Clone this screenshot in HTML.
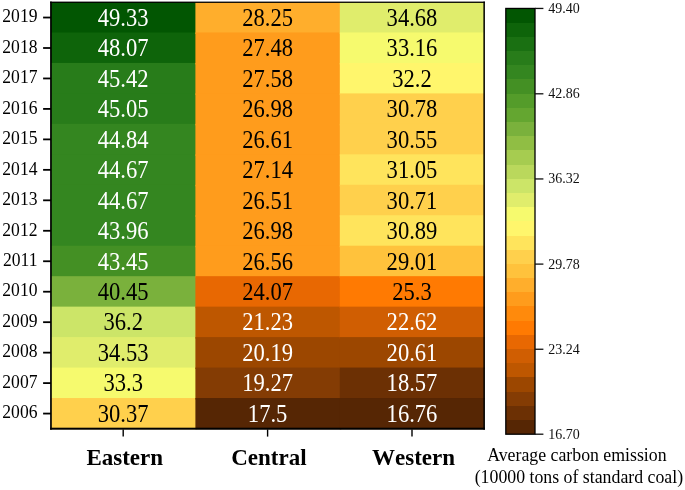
<!DOCTYPE html>
<html lang="en"><head><meta charset="utf-8"><title>Average carbon emission heatmap</title>
<style>html,body{margin:0;padding:0;background:#fff}svg{display:block}text{font-family:"Liberation Serif",serif}</style>
</head><body>
<svg width="685" height="490" viewBox="0 0 685 490" style="filter:blur(0.4px)">
<rect x="0" y="0" width="685" height="490" fill="#ffffff"/>
<clipPath id="hm"><rect x="50.60" y="2.10" width="433.80" height="427.10"/></clipPath>
<g clip-path="url(#hm)">
<rect x="51.00" y="2.00" width="145.90" height="31.96" fill="rgb(2,86,2)"/>
<rect x="51.00" y="32.46" width="145.90" height="31.96" fill="rgb(14,100,10)"/>
<rect x="51.00" y="62.93" width="145.90" height="31.96" fill="rgb(40,124,26)"/>
<rect x="51.00" y="93.39" width="145.90" height="31.96" fill="rgb(40,124,26)"/>
<rect x="51.00" y="123.86" width="145.90" height="31.96" fill="rgb(52,134,32)"/>
<rect x="51.00" y="154.32" width="145.90" height="31.96" fill="rgb(52,134,32)"/>
<rect x="51.00" y="184.79" width="145.90" height="31.96" fill="rgb(52,134,32)"/>
<rect x="51.00" y="215.25" width="145.90" height="31.96" fill="rgb(52,134,32)"/>
<rect x="51.00" y="245.71" width="145.90" height="31.96" fill="rgb(68,144,36)"/>
<rect x="51.00" y="276.18" width="145.90" height="31.96" fill="rgb(122,177,60)"/>
<rect x="51.00" y="306.64" width="145.90" height="31.96" fill="rgb(204,229,104)"/>
<rect x="51.00" y="337.11" width="145.90" height="31.96" fill="rgb(224,237,108)"/>
<rect x="51.00" y="367.57" width="145.90" height="31.96" fill="rgb(246,250,110)"/>
<rect x="51.00" y="398.04" width="145.90" height="31.96" fill="rgb(255,208,76)"/>
<rect x="195.40" y="2.00" width="145.90" height="31.96" fill="rgb(255,174,44)"/>
<rect x="195.40" y="32.46" width="145.90" height="31.96" fill="rgb(255,156,28)"/>
<rect x="195.40" y="62.93" width="145.90" height="31.96" fill="rgb(255,156,28)"/>
<rect x="195.40" y="93.39" width="145.90" height="31.96" fill="rgb(255,156,28)"/>
<rect x="195.40" y="123.86" width="145.90" height="31.96" fill="rgb(255,156,28)"/>
<rect x="195.40" y="154.32" width="145.90" height="31.96" fill="rgb(255,156,28)"/>
<rect x="195.40" y="184.79" width="145.90" height="31.96" fill="rgb(255,156,28)"/>
<rect x="195.40" y="215.25" width="145.90" height="31.96" fill="rgb(255,156,28)"/>
<rect x="195.40" y="245.71" width="145.90" height="31.96" fill="rgb(255,156,28)"/>
<rect x="195.40" y="276.18" width="145.90" height="31.96" fill="rgb(232,104,2)"/>
<rect x="195.40" y="306.64" width="145.90" height="31.96" fill="rgb(190,87,0)"/>
<rect x="195.40" y="337.11" width="145.90" height="31.96" fill="rgb(156,71,0)"/>
<rect x="195.40" y="367.57" width="145.90" height="31.96" fill="rgb(132,60,4)"/>
<rect x="195.40" y="398.04" width="145.90" height="31.96" fill="rgb(86,38,4)"/>
<rect x="339.80" y="2.00" width="145.90" height="31.96" fill="rgb(224,237,108)"/>
<rect x="339.80" y="32.46" width="145.90" height="31.96" fill="rgb(246,250,110)"/>
<rect x="339.80" y="62.93" width="145.90" height="31.96" fill="rgb(255,246,108)"/>
<rect x="339.80" y="93.39" width="145.90" height="31.96" fill="rgb(255,208,76)"/>
<rect x="339.80" y="123.86" width="145.90" height="31.96" fill="rgb(255,208,76)"/>
<rect x="339.80" y="154.32" width="145.90" height="31.96" fill="rgb(255,228,92)"/>
<rect x="339.80" y="184.79" width="145.90" height="31.96" fill="rgb(255,208,76)"/>
<rect x="339.80" y="215.25" width="145.90" height="31.96" fill="rgb(255,228,92)"/>
<rect x="339.80" y="245.71" width="145.90" height="31.96" fill="rgb(255,194,60)"/>
<rect x="339.80" y="276.18" width="145.90" height="31.96" fill="rgb(255,122,2)"/>
<rect x="339.80" y="306.64" width="145.90" height="31.96" fill="rgb(208,94,2)"/>
<rect x="339.80" y="337.11" width="145.90" height="31.96" fill="rgb(156,71,0)"/>
<rect x="339.80" y="367.57" width="145.90" height="31.96" fill="rgb(108,48,4)"/>
<rect x="339.80" y="398.04" width="145.90" height="31.96" fill="rgb(86,38,4)"/>
</g>
<g shape-rendering="crispEdges">
<rect x="505.80" y="8.45" width="29.20" height="14.69" fill="rgb(2,86,2)"/>
<rect x="505.80" y="22.64" width="29.20" height="14.69" fill="rgb(14,100,10)"/>
<rect x="505.80" y="36.83" width="29.20" height="14.69" fill="rgb(26,112,18)"/>
<rect x="505.80" y="51.03" width="29.20" height="14.69" fill="rgb(40,124,26)"/>
<rect x="505.80" y="65.22" width="29.20" height="14.69" fill="rgb(52,134,32)"/>
<rect x="505.80" y="79.41" width="29.20" height="14.69" fill="rgb(68,144,36)"/>
<rect x="505.80" y="93.60" width="29.20" height="14.69" fill="rgb(84,156,42)"/>
<rect x="505.80" y="107.79" width="29.20" height="14.69" fill="rgb(100,166,48)"/>
<rect x="505.80" y="121.98" width="29.20" height="14.69" fill="rgb(122,177,60)"/>
<rect x="505.80" y="136.17" width="29.20" height="14.69" fill="rgb(144,190,68)"/>
<rect x="505.80" y="150.37" width="29.20" height="14.69" fill="rgb(166,204,80)"/>
<rect x="505.80" y="164.56" width="29.20" height="14.69" fill="rgb(186,216,92)"/>
<rect x="505.80" y="178.75" width="29.20" height="14.69" fill="rgb(204,229,104)"/>
<rect x="505.80" y="192.94" width="29.20" height="14.69" fill="rgb(224,237,108)"/>
<rect x="505.80" y="207.13" width="29.20" height="14.69" fill="rgb(246,250,110)"/>
<rect x="505.80" y="221.32" width="29.20" height="14.69" fill="rgb(255,246,108)"/>
<rect x="505.80" y="235.52" width="29.20" height="14.69" fill="rgb(255,228,92)"/>
<rect x="505.80" y="249.71" width="29.20" height="14.69" fill="rgb(255,208,76)"/>
<rect x="505.80" y="263.90" width="29.20" height="14.69" fill="rgb(255,194,60)"/>
<rect x="505.80" y="278.09" width="29.20" height="14.69" fill="rgb(255,174,44)"/>
<rect x="505.80" y="292.28" width="29.20" height="14.69" fill="rgb(255,156,28)"/>
<rect x="505.80" y="306.47" width="29.20" height="14.69" fill="rgb(255,138,12)"/>
<rect x="505.80" y="320.67" width="29.20" height="14.69" fill="rgb(255,122,2)"/>
<rect x="505.80" y="334.86" width="29.20" height="14.69" fill="rgb(232,104,2)"/>
<rect x="505.80" y="349.05" width="29.20" height="14.69" fill="rgb(208,94,2)"/>
<rect x="505.80" y="363.24" width="29.20" height="14.69" fill="rgb(190,87,0)"/>
<rect x="505.80" y="377.43" width="29.20" height="14.69" fill="rgb(156,71,0)"/>
<rect x="505.80" y="391.62" width="29.20" height="14.69" fill="rgb(132,60,4)"/>
<rect x="505.80" y="405.82" width="29.20" height="14.69" fill="rgb(108,48,4)"/>
<rect x="505.80" y="420.01" width="29.20" height="14.69" fill="rgb(86,38,4)"/>
</g>
<rect x="503.80" y="434.20" width="33.20" height="2" fill="#fff"/>
<rect x="505.80" y="8.45" width="29.20" height="425.75" fill="none" stroke="#000" stroke-width="1.3"/>
<rect x="50.10" y="1.60" width="1.70" height="428.10" fill="#000"/>
<rect x="483.40" y="1.60" width="1.50" height="428.10" fill="#000"/>
<rect x="50.10" y="1.60" width="434.80" height="1.30" fill="#000"/>
<rect x="50.10" y="427.70" width="434.80" height="2.00" fill="#000"/>
<line x1="43.1" y1="17.53" x2="51.00" y2="17.53" stroke="#000" stroke-width="1.8"/>
<text transform="translate(37.5,22.28) scale(1,1.05)" x="0" y="0" font-size="17.6" text-anchor="end" fill="#000">2019</text>
<line x1="43.1" y1="48.00" x2="51.00" y2="48.00" stroke="#000" stroke-width="1.8"/>
<text transform="translate(37.5,52.75) scale(1,1.05)" x="0" y="0" font-size="17.6" text-anchor="end" fill="#000">2018</text>
<line x1="43.1" y1="78.46" x2="51.00" y2="78.46" stroke="#000" stroke-width="1.8"/>
<text transform="translate(37.5,83.21) scale(1,1.05)" x="0" y="0" font-size="17.6" text-anchor="end" fill="#000">2017</text>
<line x1="43.1" y1="108.92" x2="51.00" y2="108.92" stroke="#000" stroke-width="1.8"/>
<text transform="translate(37.5,113.67) scale(1,1.05)" x="0" y="0" font-size="17.6" text-anchor="end" fill="#000">2016</text>
<line x1="43.1" y1="139.39" x2="51.00" y2="139.39" stroke="#000" stroke-width="1.8"/>
<text transform="translate(37.5,144.14) scale(1,1.05)" x="0" y="0" font-size="17.6" text-anchor="end" fill="#000">2015</text>
<line x1="43.1" y1="169.85" x2="51.00" y2="169.85" stroke="#000" stroke-width="1.8"/>
<text transform="translate(37.5,174.60) scale(1,1.05)" x="0" y="0" font-size="17.6" text-anchor="end" fill="#000">2014</text>
<line x1="43.1" y1="200.32" x2="51.00" y2="200.32" stroke="#000" stroke-width="1.8"/>
<text transform="translate(37.5,205.07) scale(1,1.05)" x="0" y="0" font-size="17.6" text-anchor="end" fill="#000">2013</text>
<line x1="43.1" y1="230.78" x2="51.00" y2="230.78" stroke="#000" stroke-width="1.8"/>
<text transform="translate(37.5,235.53) scale(1,1.05)" x="0" y="0" font-size="17.6" text-anchor="end" fill="#000">2012</text>
<line x1="43.1" y1="261.25" x2="51.00" y2="261.25" stroke="#000" stroke-width="1.8"/>
<text transform="translate(37.5,266.00) scale(1,1.05)" x="0" y="0" font-size="17.6" text-anchor="end" fill="#000">2011</text>
<line x1="43.1" y1="291.71" x2="51.00" y2="291.71" stroke="#000" stroke-width="1.8"/>
<text transform="translate(37.5,296.46) scale(1,1.05)" x="0" y="0" font-size="17.6" text-anchor="end" fill="#000">2010</text>
<line x1="43.1" y1="322.18" x2="51.00" y2="322.18" stroke="#000" stroke-width="1.8"/>
<text transform="translate(37.5,326.93) scale(1,1.05)" x="0" y="0" font-size="17.6" text-anchor="end" fill="#000">2009</text>
<line x1="43.1" y1="352.64" x2="51.00" y2="352.64" stroke="#000" stroke-width="1.8"/>
<text transform="translate(37.5,357.39) scale(1,1.05)" x="0" y="0" font-size="17.6" text-anchor="end" fill="#000">2008</text>
<line x1="43.1" y1="383.10" x2="51.00" y2="383.10" stroke="#000" stroke-width="1.8"/>
<text transform="translate(37.5,387.85) scale(1,1.05)" x="0" y="0" font-size="17.6" text-anchor="end" fill="#000">2007</text>
<line x1="43.1" y1="413.57" x2="51.00" y2="413.57" stroke="#000" stroke-width="1.8"/>
<text transform="translate(37.5,418.32) scale(1,1.05)" x="0" y="0" font-size="17.6" text-anchor="end" fill="#000">2006</text>
<line x1="123.20" y1="429.50" x2="123.20" y2="436.6" stroke="#000" stroke-width="1.4"/>
<text x="124.75" y="464.7" font-size="23" font-weight="bold" text-anchor="middle" fill="#000" style="font-kerning:none">Eastern</text>
<line x1="267.60" y1="429.50" x2="267.60" y2="436.6" stroke="#000" stroke-width="1.4"/>
<text x="268.90" y="464.7" font-size="23" font-weight="bold" text-anchor="middle" fill="#000" style="font-kerning:none">Central</text>
<line x1="412.00" y1="429.50" x2="412.00" y2="436.6" stroke="#000" stroke-width="1.4"/>
<text x="413.50" y="464.7" font-size="23" font-weight="bold" text-anchor="middle" fill="#000" style="font-kerning:none">Western</text>
<text transform="translate(123.20,25.83) scale(1,1.075)" x="0" y="0" font-size="22.6" text-anchor="middle" fill="#fff">49.33</text>
<text transform="translate(123.20,56.30) scale(1,1.075)" x="0" y="0" font-size="22.6" text-anchor="middle" fill="#fff">48.07</text>
<text transform="translate(123.20,86.76) scale(1,1.075)" x="0" y="0" font-size="22.6" text-anchor="middle" fill="#fff">45.42</text>
<text transform="translate(123.20,117.22) scale(1,1.075)" x="0" y="0" font-size="22.6" text-anchor="middle" fill="#fff">45.05</text>
<text transform="translate(123.20,147.69) scale(1,1.075)" x="0" y="0" font-size="22.6" text-anchor="middle" fill="#fff">44.84</text>
<text transform="translate(123.20,178.15) scale(1,1.075)" x="0" y="0" font-size="22.6" text-anchor="middle" fill="#fff">44.67</text>
<text transform="translate(123.20,208.62) scale(1,1.075)" x="0" y="0" font-size="22.6" text-anchor="middle" fill="#fff">44.67</text>
<text transform="translate(123.20,239.08) scale(1,1.075)" x="0" y="0" font-size="22.6" text-anchor="middle" fill="#fff">43.96</text>
<text transform="translate(123.20,269.55) scale(1,1.075)" x="0" y="0" font-size="22.6" text-anchor="middle" fill="#fff">43.45</text>
<text transform="translate(123.20,300.01) scale(1,1.075)" x="0" y="0" font-size="22.6" text-anchor="middle" fill="#000">40.45</text>
<text transform="translate(123.20,330.48) scale(1,1.075)" x="0" y="0" font-size="22.6" text-anchor="middle" fill="#000">36.2</text>
<text transform="translate(123.20,360.94) scale(1,1.075)" x="0" y="0" font-size="22.6" text-anchor="middle" fill="#000">34.53</text>
<text transform="translate(123.20,391.40) scale(1,1.075)" x="0" y="0" font-size="22.6" text-anchor="middle" fill="#000">33.3</text>
<text transform="translate(123.20,421.87) scale(1,1.075)" x="0" y="0" font-size="22.6" text-anchor="middle" fill="#000">30.37</text>
<text transform="translate(267.60,25.83) scale(1,1.075)" x="0" y="0" font-size="22.6" text-anchor="middle" fill="#000">28.25</text>
<text transform="translate(267.60,56.30) scale(1,1.075)" x="0" y="0" font-size="22.6" text-anchor="middle" fill="#000">27.48</text>
<text transform="translate(267.60,86.76) scale(1,1.075)" x="0" y="0" font-size="22.6" text-anchor="middle" fill="#000">27.58</text>
<text transform="translate(267.60,117.22) scale(1,1.075)" x="0" y="0" font-size="22.6" text-anchor="middle" fill="#000">26.98</text>
<text transform="translate(267.60,147.69) scale(1,1.075)" x="0" y="0" font-size="22.6" text-anchor="middle" fill="#000">26.61</text>
<text transform="translate(267.60,178.15) scale(1,1.075)" x="0" y="0" font-size="22.6" text-anchor="middle" fill="#000">27.14</text>
<text transform="translate(267.60,208.62) scale(1,1.075)" x="0" y="0" font-size="22.6" text-anchor="middle" fill="#000">26.51</text>
<text transform="translate(267.60,239.08) scale(1,1.075)" x="0" y="0" font-size="22.6" text-anchor="middle" fill="#000">26.98</text>
<text transform="translate(267.60,269.55) scale(1,1.075)" x="0" y="0" font-size="22.6" text-anchor="middle" fill="#000">26.56</text>
<text transform="translate(267.60,300.01) scale(1,1.075)" x="0" y="0" font-size="22.6" text-anchor="middle" fill="#000">24.07</text>
<text transform="translate(267.60,330.48) scale(1,1.075)" x="0" y="0" font-size="22.6" text-anchor="middle" fill="#fff">21.23</text>
<text transform="translate(267.60,360.94) scale(1,1.075)" x="0" y="0" font-size="22.6" text-anchor="middle" fill="#fff">20.19</text>
<text transform="translate(267.60,391.40) scale(1,1.075)" x="0" y="0" font-size="22.6" text-anchor="middle" fill="#fff">19.27</text>
<text transform="translate(267.60,421.87) scale(1,1.075)" x="0" y="0" font-size="22.6" text-anchor="middle" fill="#fff">17.5</text>
<text transform="translate(412.00,25.83) scale(1,1.075)" x="0" y="0" font-size="22.6" text-anchor="middle" fill="#000">34.68</text>
<text transform="translate(412.00,56.30) scale(1,1.075)" x="0" y="0" font-size="22.6" text-anchor="middle" fill="#000">33.16</text>
<text transform="translate(412.00,86.76) scale(1,1.075)" x="0" y="0" font-size="22.6" text-anchor="middle" fill="#000">32.2</text>
<text transform="translate(412.00,117.22) scale(1,1.075)" x="0" y="0" font-size="22.6" text-anchor="middle" fill="#000">30.78</text>
<text transform="translate(412.00,147.69) scale(1,1.075)" x="0" y="0" font-size="22.6" text-anchor="middle" fill="#000">30.55</text>
<text transform="translate(412.00,178.15) scale(1,1.075)" x="0" y="0" font-size="22.6" text-anchor="middle" fill="#000">31.05</text>
<text transform="translate(412.00,208.62) scale(1,1.075)" x="0" y="0" font-size="22.6" text-anchor="middle" fill="#000">30.71</text>
<text transform="translate(412.00,239.08) scale(1,1.075)" x="0" y="0" font-size="22.6" text-anchor="middle" fill="#000">30.89</text>
<text transform="translate(412.00,269.55) scale(1,1.075)" x="0" y="0" font-size="22.6" text-anchor="middle" fill="#000">29.01</text>
<text transform="translate(412.00,300.01) scale(1,1.075)" x="0" y="0" font-size="22.6" text-anchor="middle" fill="#000">25.3</text>
<text transform="translate(412.00,330.48) scale(1,1.075)" x="0" y="0" font-size="22.6" text-anchor="middle" fill="#fff">22.62</text>
<text transform="translate(412.00,360.94) scale(1,1.075)" x="0" y="0" font-size="22.6" text-anchor="middle" fill="#fff">20.61</text>
<text transform="translate(412.00,391.40) scale(1,1.075)" x="0" y="0" font-size="22.6" text-anchor="middle" fill="#fff">18.57</text>
<text transform="translate(412.00,421.87) scale(1,1.075)" x="0" y="0" font-size="22.6" text-anchor="middle" fill="#fff">16.76</text>
<line x1="535.00" y1="8.45" x2="543.4" y2="8.45" stroke="#111" stroke-width="1.3"/>
<text transform="translate(548.3,13.05) scale(1,1.10)" x="0" y="0" font-size="14" fill="#111">49.40</text>
<line x1="535.00" y1="93.80" x2="543.4" y2="93.80" stroke="#111" stroke-width="1.3"/>
<text transform="translate(548.3,98.20) scale(1,1.10)" x="0" y="0" font-size="14" fill="#111">42.86</text>
<line x1="535.00" y1="178.95" x2="543.4" y2="178.95" stroke="#111" stroke-width="1.3"/>
<text transform="translate(548.3,183.35) scale(1,1.10)" x="0" y="0" font-size="14" fill="#111">36.32</text>
<line x1="535.00" y1="264.10" x2="543.4" y2="264.10" stroke="#111" stroke-width="1.3"/>
<text transform="translate(548.3,268.50) scale(1,1.10)" x="0" y="0" font-size="14" fill="#111">29.78</text>
<line x1="535.00" y1="349.25" x2="543.4" y2="349.25" stroke="#111" stroke-width="1.3"/>
<text transform="translate(548.3,353.65) scale(1,1.10)" x="0" y="0" font-size="14" fill="#111">23.24</text>
<line x1="535.00" y1="434.20" x2="543.4" y2="434.20" stroke="#111" stroke-width="1.3"/>
<text transform="translate(548.3,438.80) scale(1,1.10)" x="0" y="0" font-size="14" fill="#111">16.70</text>
<text x="576.9" y="460.7" font-size="17.8" text-anchor="middle" fill="#000">Average carbon emission</text>
<text x="578.9" y="482.9" font-size="17.8" text-anchor="middle" fill="#000">(10000 tons of standard coal)</text>
</svg>
</body></html>
